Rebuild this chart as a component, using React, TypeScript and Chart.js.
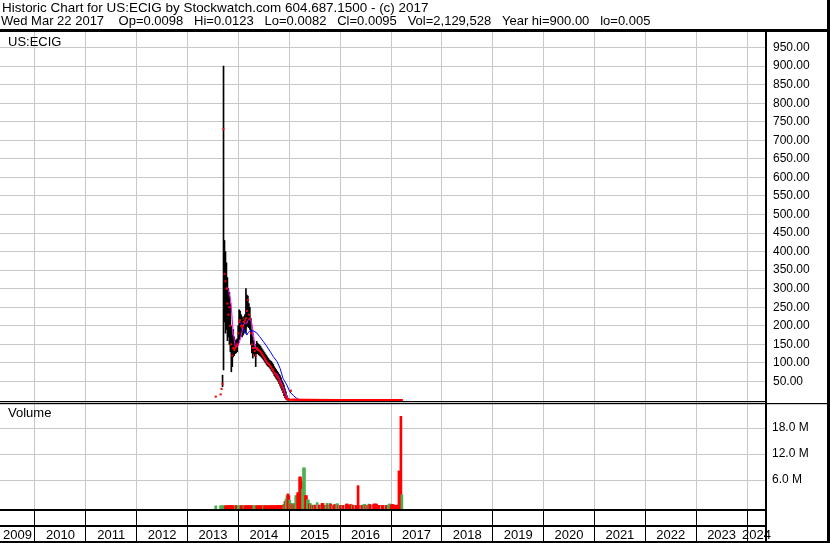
import React, { useEffect, useRef } from 'react';
import { Chart, registerables } from 'chart.js';

Chart.register(...registerables);

const FONT = "'Liberation Sans', Arial, Helvetica, sans-serif";

const HEADER_LINES = [
  'Historic Chart for US:ECIG by Stockwatch.com 604.687.1500 - (c) 2017',
  'Wed Mar 22 2017    Op=0.0098   Hi=0.0123   Lo=0.0082   Cl=0.0095   Vol=2,129,528   Year hi=900.00   lo=0.005',
];
const SYMBOL = 'US:ECIG';
const VOLUME_LABEL = 'Volume';

// weekly bars, first week starts on this Monday
const FIRST_WEEK = '2013-07-15';

const YEARS = [2009, 2010, 2011, 2012, 2013, 2014, 2015, 2016, 2017, 2018, 2019, 2020, 2021, 2022, 2023, 2024];
const PRICE_TICKS = [50, 100, 150, 200, 250, 300, 350, 400, 450, 500, 550, 600, 650, 700, 750, 800, 850, 900, 950];
const VOLUME_TICKS = [6, 12, 18]; // millions

const HIGHS = [
  null, 9, null, null, null, null, 15, 30, 67, 900, 430, 400,
  370, 330, 300, 290, 260, 200, 175, 190, 170, 160, 162, 165,
  200, 243, 240, 230, 224, 215, 225, 230, 300, 283, 280, 260,
  250, 220, 189, 170, 160, 150, 140, 158, 153, 150, 148, 145,
  140, 136, 132, 128, 124, 120, 116, 112, 108, 106, 104, 100,
  96, 90, 86, 82, 78, 74, 70, 66, 60, 52, 46, 40,
  30, 22, 12, 5, 3, 1.2, 25, 1.0, 0.95, 0.9, 0.85, 0.8,
  0.76, 0.72, 0.68, 0.62, 0.58, 0.54, 0.5, 0.47, 0.45, 0.42, 0.4, 0.39,
  0.37, 0.35, 0.34, 0.32, 0.3, 0.29, 0.28, 0.27, 0.25, 0.24, 0.23, 0.22,
  0.2, 0.19, 0.18, 0.17, 0.17, 0.16, 0.15, 0.14, 0.14, 0.13, 0.12, 0.12,
  0.11, 0.1, 0.095, 0.09, 0.085, 0.08, 0.075, 0.07, 0.068, 0.064, 0.06, 0.058,
  0.055, 0.052, 0.05, 0.047, 0.045, 0.042, 0.04, 0.038, 0.037, 0.035, 0.034, 0.032,
  0.031, 0.03, 0.029, 0.036, 0.033, 0.03, 0.029, 0.028, 0.027, 0.026, 0.025, 0.024,
  0.023, 0.022, 0.021, 0.021, 0.02, 0.019, 0.019, 0.018, 0.017, 0.016, 0.016, 0.015,
  0.015, 0.014, 0.014, 0.014, 0.013, 0.013, 0.013, 0.013, 0.012, 0.012, 0.012, 0.012,
  0.013, 0.012, 0.012, 0.0115, 0.011, 0.011, 0.0108, 0.0105, 0.0102, 0.013, 0.0135, 0.012,
  0.0123,
];

const LOWS = [
  null, 9, null, null, null, null, 15, 30, 36, 81, 210, 180,
  190, 160, 170, 150, 130, 76, 90, 116, 120, 125, 127, 130,
  150, 162, 170, 175, 170, 175, 180, 185, 180, 197, 200, 195,
  190, 150, 127, 113, 125, 118, 90, 125, 125, 122, 120, 118,
  115, 112, 108, 104, 100, 96, 92, 90, 88, 84, 80, 76,
  72, 66, 62, 58, 54, 50, 44, 38, 32, 26, 20, 12,
  6, 2, 0.5, 0.2, 0.1, 0.3, 24, 0.8, 0.75, 0.7, 0.7, 0.65,
  0.62, 0.58, 0.54, 0.5, 0.45, 0.43, 0.4, 0.38, 0.36, 0.34, 0.32, 0.31,
  0.29, 0.28, 0.27, 0.25, 0.24, 0.23, 0.22, 0.21, 0.2, 0.19, 0.18, 0.17,
  0.16, 0.15, 0.14, 0.13, 0.13, 0.12, 0.11, 0.1, 0.1, 0.095, 0.09, 0.085,
  0.08, 0.078, 0.07, 0.068, 0.062, 0.06, 0.056, 0.052, 0.05, 0.048, 0.044, 0.043,
  0.041, 0.039, 0.036, 0.034, 0.033, 0.031, 0.03, 0.028, 0.027, 0.026, 0.025, 0.024,
  0.023, 0.022, 0.021, 0.024, 0.023, 0.022, 0.021, 0.02, 0.019, 0.018, 0.018, 0.017,
  0.017, 0.016, 0.015, 0.015, 0.014, 0.014, 0.013, 0.013, 0.012, 0.012, 0.012, 0.011,
  0.011, 0.01, 0.01, 0.01, 0.0095, 0.0095, 0.0095, 0.0095, 0.009, 0.009, 0.0088, 0.0088,
  0.009, 0.0088, 0.0086, 0.0085, 0.0082, 0.008, 0.0078, 0.0076, 0.0075, 0.0082, 0.009, 0.0085,
  0.0082,
];

const CLOSES = [
  null, 9, null, null, null, null, 15, 30, 43, 730, 340, 320,
  300, 260, 230, 250, 200, 150, 120, 140, 135, 140, 145, 150,
  180, 210, 215, 200, 195, 200, 210, 215, 220, 240, 270, 230,
  220, 180, 150, 140, 140, 132, 120, 140, 138, 135, 132, 130,
  126, 122, 118, 114, 110, 105, 100, 98, 95, 92, 88, 84,
  80, 74, 70, 66, 62, 58, 52, 46, 40, 34, 26, 18,
  10, 5, 2, 1, 0.5, 0.6, 25, 0.9, 0.85, 0.8, 0.78, 0.72,
  0.7, 0.65, 0.6, 0.55, 0.5, 0.48, 0.45, 0.42, 0.4, 0.38, 0.36, 0.35,
  0.33, 0.31, 0.3, 0.28, 0.27, 0.26, 0.25, 0.24, 0.22, 0.21, 0.2, 0.19,
  0.18, 0.17, 0.16, 0.15, 0.15, 0.14, 0.13, 0.12, 0.12, 0.11, 0.1, 0.1,
  0.09, 0.09, 0.08, 0.08, 0.07, 0.07, 0.065, 0.06, 0.06, 0.055, 0.05, 0.05,
  0.048, 0.045, 0.042, 0.04, 0.038, 0.036, 0.035, 0.033, 0.032, 0.03, 0.03, 0.028,
  0.027, 0.026, 0.025, 0.03, 0.028, 0.026, 0.025, 0.024, 0.023, 0.022, 0.021, 0.02,
  0.02, 0.019, 0.018, 0.018, 0.017, 0.016, 0.016, 0.015, 0.015, 0.014, 0.014, 0.013,
  0.013, 0.012, 0.012, 0.012, 0.011, 0.011, 0.011, 0.011, 0.01, 0.01, 0.01, 0.01,
  0.011, 0.01, 0.01, 0.0098, 0.0095, 0.0095, 0.0092, 0.009, 0.0088, 0.0105, 0.0115, 0.01,
  0.0095,
];

// volume in millions of shares
const VOLUMES = [
  null, 0.05, null, null, null, null, 0.05, 0.05, 0.05, 0.06, 0.05, 0.05,
  0.08, 0.08, 0.07, 0.06, 0.07, 0.08, 0.07, 0.06, 0.06, 0.05, 0.06, 0.05,
  0.06, 0.07, 0.06, 0.05, 0.06, 0.05, 0.06, 0.05, 0.07, 0.06, 0.05, 0.06,
  0.06, 0.07, 0.06, 0.05, 0.05, 0.06, 0.05, 0.06, 0.05, 0.06, 0.05, 0.06,
  0.06, 0.05, 0.06, 0.05, 0.06, 0.05, 0.06, 0.05, 0.06, 0.07, 0.06, 0.07,
  0.06, 0.07, 0.06, 0.08, 0.09, 0.1, 0.12, 0.1, 0.12, 0.15, 0.2, 0.4,
  1.06, 1.6, 2.4, 2.8, 2.4, 1.4, 0.5, 0.6, 0.3, 0.6, 0.3, 2.4,
  2.4, 3.1, 1.5, 6.7, 6.7, 5.6, 3.9, 8.8, 8.8, 2.4, 2.4, 1.4,
  1.4, 0.5, 0.6, 0.2, 0.2, 0.1, 0.2, 0.2, 0.1, 0.8, 0.3, 0.2,
  0.1, 0.1, 0.6, 0.6, 0.1, 0.1, 0.1, 0.6, 0.2, 0.1, 0.6, 0.45,
  0.1, 0.1, 0.1, 0.35, 0.35, 0.5, 0.5, 0.1, 0.1, 0.1, 0.1, 0.1,
  0.1, 0.1, 0.2, 0.45, 0.45, 0.1, 0.2, 0.3, 0.3, 0.2, 0.1, 0.1,
  0.1, 0.1, 0.1, 4.7, 0.1, 0.1, 0.2, 0.1, 0.1, 0.4, 0.4, 0.1,
  0.1, 0.1, 0.45, 0.35, 0.2, 0.1, 0.1, 0.45, 0.45, 0.45, 0.45, 0.1,
  0.1, 0.15, 0.15, 0.1, 0.15, 0.1, 0.1, 0.1, 0.1, 0.1, 0.2, 0.45,
  0.45, 0.2, 0.35, 0.35, 0.1, 0.2, 0.1, 0.2, 0.2, 8.1, 0.3, 20.7,
  2.6,
];

// u = up week, d = down week, n = unchanged, - = no trade
const VOLUME_DIR = (
  '-u----uuuuud' + 'dddddddddudd' + 'uuuddduddddd' + 'dddduuuddddd' +
  'dduddddddddd' + 'dddddddddddu' + 'duuddudududu' + 'uddddduuuddu' +
  'ududududdund' + 'dudddduuduud' + 'dnddduudnddu' + 'ddnddddddudd' +
  'ndddddndduud' + 'ndudddnddddd' + 'dddndddndduu' + 'uddddddddddd' + 'u'
).split('');

// moving averages (week index, value)
const MA_SHORT_WEEKS = [12, 14, 16, 17, 19, 21, 22, 24, 26, 28, 29, 31, 33, 34, 36, 38, 40, 41, 43, 46, 50, 53, 57, 60, 64, 67, 70, 72, 74, 75, 77, 80, 90, 110, 140, 170, 192];
const MA_SHORT = [305, 296, 274, 251, 180, 144, 142, 146, 162, 184, 202, 207, 207, 214, 220, 207, 171, 144, 135, 133, 117, 100, 92, 76, 70, 54, 36, 20, 9, 2, 0.5, 0.6, 0.45, 0.22, 0.04, 0.014, 0.01];
const MA_LONG_WEEKS = [25, 28, 29, 31, 33, 34, 36, 40, 43, 46, 50, 53, 57, 60, 64, 67, 70, 74, 77, 81, 84, 87, 100, 130, 160, 192];
const MA_LONG = [216, 202, 196, 184, 175, 181, 186, 186, 181, 171, 157, 146, 130, 117, 103, 85, 58, 40, 22, 11, 4.5, 0.5, 0.3, 0.06, 0.02, 0.012];

// axis ranges
const X_MIN = 2009.312;
const X_MAX = 2024.373;
const PRICE_MIN = -2.7;
const PRICE_MAX = 991.9;
const VOL_MIN = -0.69;
const VOL_MAX = 24.23;

const COLORS = {
  grid: '#c8c8c8',
  bar: '#000000',
  close: '#ff0000',
  maShort: '#ff00ff',
  maLong: '#0000ff',
  up: '#4cb050',
  down: '#ff0000',
  flat: '#a0a0a0',
};

function toDecimalYear(ms: number): number {
  const d = new Date(ms);
  const y = d.getUTCFullYear();
  const s = Date.UTC(y, 0, 1);
  const e = Date.UTC(y + 1, 0, 1);
  return y + (ms - s) / (e - s);
}

const FIRST_MS = Date.parse(FIRST_WEEK + 'T00:00:00Z');
const WEEK_X = CLOSES.map((_, i) => toDecimalYear(FIRST_MS + i * 7 * 86400000));

const framePlugin = {
  id: 'stockwatchFrame',
  afterDraw(chart: any) {
    const { ctx, chartArea: a, width: W, height: H } = chart;
    const yP = chart.scales.yP;
    const yV = chart.scales.yV;
    ctx.save();
    ctx.fillStyle = '#000';
    ctx.fillRect(0, a.top - 3, W, 3);
    ctx.fillRect(0, yP.bottom, a.right, 1.2);
    ctx.fillRect(0, yV.top + 2, W, 1.2);
    ctx.fillRect(0, a.bottom, a.right, 2);
    ctx.fillRect(0, a.bottom + 16, a.right, 2);
    ctx.fillRect(a.right - 1, a.top, 2, H - a.top);
    ctx.fillRect(W - 3, 0, 3, H);
    ctx.fillRect(0, H - 2, W, 2);
    ctx.textBaseline = 'middle';
    ctx.textAlign = 'left';
    ctx.font = `13.45px ${FONT}`;
    ctx.fillText(HEADER_LINES[0], 2, 8.5);
    ctx.font = `13px ${FONT}`;
    ctx.fillText(HEADER_LINES[1], 1, 21.8);
    ctx.fillText(SYMBOL, a.left + 8, a.top + 10);
    ctx.fillText(VOLUME_LABEL, a.left + 8, yV.top + 12);
    ctx.restore();
  },
};

export default function App() {
  const ref = useRef<HTMLCanvasElement | null>(null);

  useEffect(() => {
    if (!ref.current) return;

    const hl: any[] = [];
    const closes: any[] = [];
    const vols: any[] = [];
    const volColors: string[] = [];
    WEEK_X.forEach((x, i) => {
      if (HIGHS[i] != null && LOWS[i] != null) hl.push({ x, y: [LOWS[i], HIGHS[i]] });
      if (CLOSES[i] != null) closes.push({ x, y: CLOSES[i] });
      if (VOLUMES[i] != null) {
        vols.push({ x, y: VOLUMES[i] });
        const d = VOLUME_DIR[i];
        volColors.push(d === 'u' ? COLORS.up : d === 'n' ? COLORS.flat : COLORS.down);
      }
    });
    const maShort = MA_SHORT_WEEKS.map((w, i) => ({ x: WEEK_X[w], y: MA_SHORT[i] }));
    const maLong = MA_LONG_WEEKS.map((w, i) => ({ x: WEEK_X[w], y: MA_LONG[i] }));

    const chart = new Chart(ref.current, {
      type: 'line',
      data: {
        datasets: [
          {
            type: 'line', label: 'Close', data: closes, xAxisID: 'x', yAxisID: 'yP', showLine: false,
            pointStyle: 'rect', pointRadius: 1.42, pointBackgroundColor: COLORS.close,
            pointBorderWidth: 0, borderWidth: 0, order: 1,
          },
          {
            type: 'line', label: 'MA long', data: maLong, xAxisID: 'x', yAxisID: 'yP',
            borderColor: COLORS.maLong, borderWidth: 1, pointRadius: 0, tension: 0, order: 2,
          },
          {
            type: 'line', label: 'MA short', data: maShort, xAxisID: 'x', yAxisID: 'yP',
            borderColor: COLORS.maShort, borderWidth: 1, pointRadius: 0, tension: 0, order: 3,
          },
          {
            type: 'bar', label: 'High-Low', data: hl, xAxisID: 'x', yAxisID: 'yP',
            backgroundColor: COLORS.bar, barThickness: 1, grouped: false, order: 4,
          },
          {
            type: 'bar', label: 'Volume', data: vols, xAxisID: 'x', yAxisID: 'yV',
            backgroundColor: volColors, barThickness: 2, grouped: false, base: VOL_MIN, order: 5,
          },
        ] as any,
      },
      options: {
        animation: false,
        responsive: false,
        devicePixelRatio: 1,
        events: [],
        layout: { padding: { top: 32, left: 0, right: 0, bottom: 0 }, autoPadding: false },
        plugins: {
          legend: { display: false },
          tooltip: { enabled: false },
          title: { display: false },
        },
        scales: {
          x: {
            type: 'linear', position: 'bottom', weight: 0, min: X_MIN, max: X_MAX, offset: false,
            bounds: 'data',
            afterBuildTicks: (s: any) => {
              s.ticks = YEARS.filter((y) => y > X_MIN && y < X_MAX).map((y) => ({ value: y }));
            },
            afterFit: (s: any) => { s.height = 0; s.paddingLeft = 0; s.paddingRight = 0; },
            grid: { color: COLORS.grid, tickColor: '#000', drawTicks: true, tickLength: 34, lineWidth: 1, offset: false },
            border: { display: false },
            ticks: { display: false },
          },
          xl: {
            type: 'linear', position: 'bottom', weight: 1, min: X_MIN, max: X_MAX, offset: false,
            bounds: 'data',
            afterBuildTicks: (s: any) => {
              s.ticks = YEARS.map((y) => ({ value: (Math.max(y, X_MIN) + Math.min(y + 1, X_MAX)) / 2 }));
            },
            afterFit: (s: any) => { s.height = 34; s.paddingLeft = 0; s.paddingRight = 0; },
            grid: { display: false, drawTicks: false, offset: false },
            border: { display: false },
            ticks: {
              autoSkip: false, maxRotation: 0, minRotation: 0, padding: 19, color: '#000',
              font: { family: FONT, size: 13 },
              callback: (_v: any, i: number) => String(YEARS[i]),
            },
          },
          yP: {
            type: 'linear', position: 'right', stack: 'panels', stackWeight: 369,
            min: PRICE_MIN, max: PRICE_MAX,
            afterBuildTicks: (s: any) => { s.ticks = PRICE_TICKS.map((v) => ({ value: v })); },
            afterFit: (s: any) => { s.width = 64; s.paddingTop = 0; s.paddingBottom = 0; },
            grid: { color: COLORS.grid, drawTicks: false, lineWidth: 1 },
            border: { display: false },
            ticks: {
              autoSkip: false, padding: 7, color: '#000', font: { family: FONT, size: 12 },
              callback: (v: any) => Number(v).toFixed(2),
            },
          },
          yV: {
            type: 'linear', position: 'right', stack: 'panels', stackWeight: 108,
            min: VOL_MIN, max: VOL_MAX,
            afterBuildTicks: (s: any) => { s.ticks = VOLUME_TICKS.map((v) => ({ value: v })); },
            afterFit: (s: any) => { s.width = 64; s.paddingTop = 0; s.paddingBottom = 0; },
            grid: { color: COLORS.grid, drawTicks: false, lineWidth: 1 },
            border: { display: false },
            ticks: {
              autoSkip: false, padding: 6, color: '#000', font: { family: FONT, size: 12 },
              callback: (v: any) => `${Number(v).toFixed(1)} M`,
            },
          },
        } as any,
      },
      plugins: [framePlugin],
    });

    return () => chart.destroy();
  }, []);

  return (
    <div style={{ position: 'absolute', left: 0, top: 0, width: 830, height: 543, background: '#fff' }}>
      <canvas ref={ref} width={830} height={543} style={{ display: 'block' }} />
    </div>
  );
}
